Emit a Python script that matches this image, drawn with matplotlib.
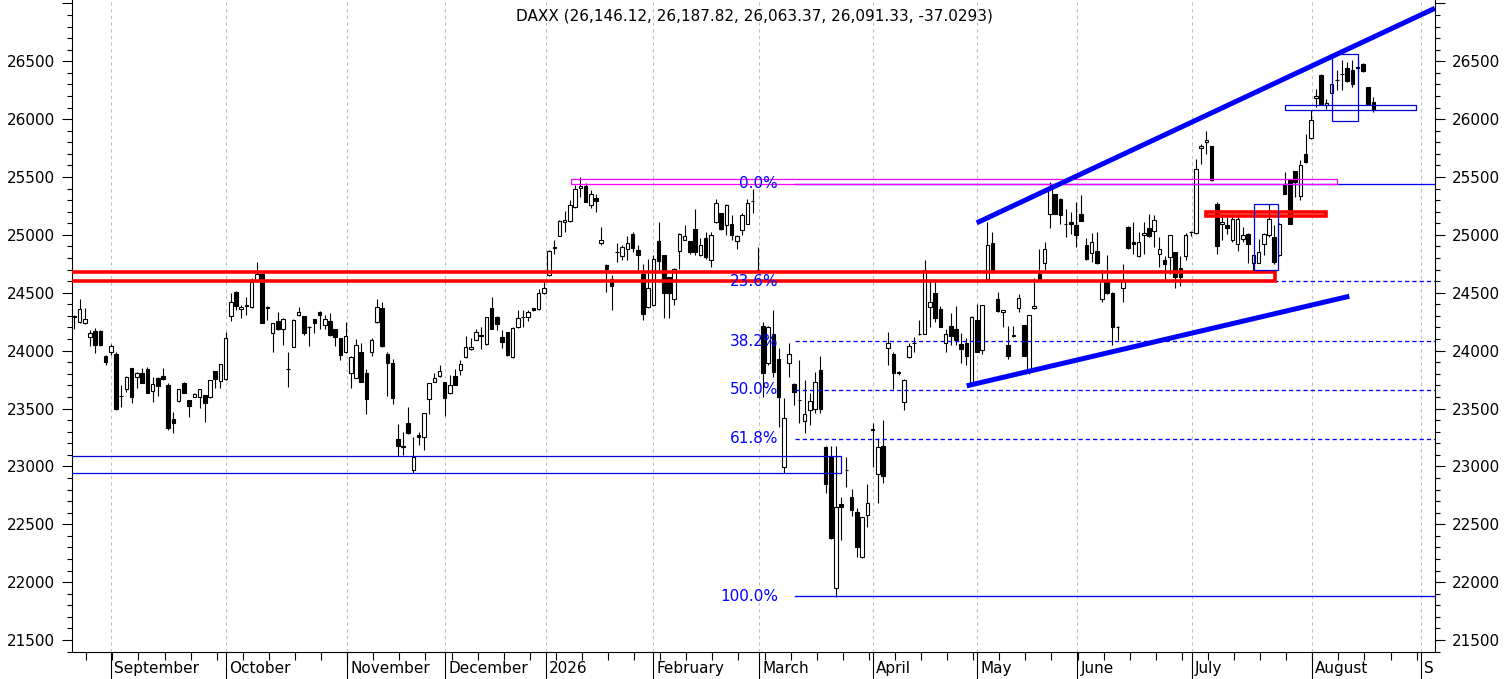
import matplotlib
matplotlib.use("Agg")
import matplotlib.pyplot as plt
import matplotlib.transforms as mtransforms
from matplotlib.patches import Rectangle
import numpy as np

# ---------------- data ----------------
opens = [24290,24247,24235,24114,24166,24170,23953,23987,23967,23612,
         23665,23846,23768,23803,23838,23653,23760,23780,23702,23406,
         23567,23717,23573,23601,23596,23616,23601,23823,23740,23751,
         24298,24503,24356,24395,24379,24609,24661,24373,24154,24255,
         24183,23842,24033,24304,24298,24208,24270,24333,24221,24255,
         24183,24105,23985,23803,23766,23985,23803,23985,24244,24365,
         23967,23889,23233,23172,23377,22968,23267,23250,23581,23731,
         23780,23725,23630,23783,23832,23941,24010,24091,24133,24054,
         24365,24293,24120,24157,23941,24200,24295,24293,24365,24356,
         24494,24652,24893,24992,25113,25118,25242,25406,25421,25262,
         25323,24934,24738,24623,24855,24816,24882,25006,24868,24660,
         24373,24393,24946,24830,24637,24442,24859,24960,24949,25055,
         24825,24977,24787,25113,25190,25084,25098,24945,25046,25098,
         25293,24697,24211,23895,24142,23932,22996,23889,23716,23574,
         23391,23486,23495,23837,23169,23083,21946,22674,22970,22732,
         22608,22213,22579,23321,22933,23175,24027,23970,23815,23558,
         23946,24069,24147,24148,24378,24502,24364,24067,24211,24191,
         24056,24067,23710,24269,24004,24617,24934,24444,24332,24047,
         24125,24372,24220,23831,24372,24666,24761,25184,25351,25314,
         25094,25112,25084,25184,24911,24845,24862,24442,24594,24502,
         24208,24537,25069,24940,24816,24997,25063,25032,24839,24781,
         24810,24848,24718,24816,25024,25017,25754,25806,25766,25271,
         25098,25083,24960,24925,24968,25011,24753,24761,24925,24997,
         24983,24825,25438,25472,25553,25334,25703,25841,26186,26385,
         26120,26229,26336,26390,26445,26428,26447,26480,26278,26146.12]

highs = [24307,24442,24365,24177,24195,24180,23960,24054,23985,23702,
         23780,23846,23817,23846,23860,23774,23774,23846,23717,23472,
         23668,23731,23573,23630,23668,23616,23750,23823,23885,24163,
         24500,24514,24393,24465,24624,24762,24670,24385,24240,24333,
         24278,23990,24270,24373,24300,24212,24270,24342,24307,24321,
         24183,24105,24249,23953,24097,24062,23840,24105,24442,24416,
         23985,23924,23365,23299,23509,23256,23299,23460,23720,23809,
         23875,23725,23789,23840,23918,24126,24105,24186,24206,24295,
         24465,24298,24177,24160,24200,24350,24350,24350,24370,24529,
         24594,24868,24954,25127,25208,25300,25429,25501,25450,25386,
         25351,25064,24747,24652,24931,24911,24989,25026,24911,24747,
         24796,24825,25112,24830,24640,24712,25015,25084,24950,25228,
         24969,25026,25026,25314,25190,25271,25170,24997,25190,25314,
         25400,24896,24250,24215,24350,24019,23587,24062,23720,23918,
         23745,23630,23817,23952,23175,23175,23175,22732,23083,22801,
         22637,22565,22847,23371,23241,23400,24162,23990,23820,23754,
         24070,24119,24263,24781,24623,24594,24387,24191,24321,24384,
         24154,24113,24298,24407,24397,25112,25026,24508,24355,24211,
         24211,24488,24222,24310,24629,24882,24940,25458,25355,25318,
         25228,25199,25285,25343,24969,25017,25026,24695,24825,24508,
         24210,24747,25075,25112,25026,25112,25179,25170,24983,24816,
         25000,24853,24816,25017,25030,25659,25783,25898,25770,25285,
         25184,25155,25179,25184,25069,25017,24830,24968,25017,25271,
         25083,25100,25544,25475,25556,25651,25875,26077,26264,26393,
         26178,26310,26422,26509,26494,26514,26523,26483,26281,26187.82]

lows = [24183,24241,24230,24039,23976,24040,23875,23961,23486,23515,
        23645,23550,23673,23722,23630,23558,23610,23750,23313,23290,
        23558,23630,23429,23598,23501,23385,23590,23673,23673,23745,
        24255,24350,24278,24307,24365,24595,24235,24264,23990,24180,
        24048,23688,24028,24300,24134,24042,24154,24189,24189,24126,
        24042,23918,23980,23673,23760,23728,23449,23956,24235,24034,
        23610,23535,23092,23098,23280,22945,23184,23141,23449,23725,
        23775,23437,23624,23700,23789,23933,24005,24090,24010,24048,
        24183,24177,24019,23956,23933,24195,24200,24255,24340,24350,
        24488,24643,24839,24989,25026,25113,25236,25328,25280,25236,
        25199,24911,24508,24350,24767,24787,24787,24853,24701,24263,
        24365,24385,24701,24278,24278,24393,24709,24955,24839,24825,
        24816,24796,24724,25107,25046,24997,24954,24882,24997,25092,
        25190,24690,23601,23880,23774,23342,22939,23774,23529,23371,
        23290,23356,23457,23457,22766,22370,21868,22363,22824,22573,
        22219,22210,22478,22996,22680,22853,23875,23667,23790,23486,
        23940,23990,24133,24142,24206,24249,24200,23990,24047,24047,
        23895,23874,23702,23985,23975,24609,24672,24335,24206,23932,
        24119,24335,23952,23802,24364,24612,24681,25063,25180,25098,
        24983,25012,24896,25118,24781,24767,24752,24422,24493,24047,
        24090,24421,24882,24839,24810,24839,24983,24896,24724,24614,
        24666,24545,24557,24781,24990,25011,25616,25703,25467,24839,
        24954,25006,24940,24862,24940,24753,24672,24753,24825,24983,
        24747,24816,25350,25092,25328,25300,25625,25832,26106,26120,
        26086,26225,26250,26250,26322,26278,26408,26408,26128,26063.37]

closes = [24296,24356,24270,24149,24045,24045,23904,24039,23492,23608,
          23768,23601,23803,23722,23636,23708,23696,23751,23328,23371,
          23665,23636,23524,23624,23665,23544,23745,23751,23881,24111,
          24416,24388,24373,24390,24589,24661,24241,24370,24235,24183,
          24270,23838,24264,24333,24154,24204,24241,24310,24270,24134,
          24120,23959,24123,23947,24048,23731,23578,24091,24379,24039,
          23889,23587,23178,23168,23285,23083,23250,23457,23717,23766,
          23826,23587,23702,23702,23881,24028,24033,24157,24129,24293,
          24189,24226,24077,23961,24198,24284,24291,24333,24355,24494,
          24537,24859,24889,25118,25127,25256,25400,25421,25285,25351,
          25294,24960,24704,24560,24851,24897,24934,24891,24830,24315,
          24543,24796,24776,24499,24499,24709,25012,24989,24853,24853,
          24911,24805,24995,25279,25055,25256,24997,24989,25170,25279,
          25289,24695,23803,24200,23817,23601,23414,23967,23644,23570,
          23449,23567,23731,23500,22844,22377,22645,22645,22966,22622,
          22306,22559,22686,23317,23169,22919,24070,23811,23808,23745,
          24039,24065,24143,24701,24416,24278,24206,24148,24128,24090,
          24018,23955,24292,23990,24393,24911,24681,24341,24350,23955,
          24139,24459,23955,24306,24390,24617,24882,25415,25184,25170,
          25090,25098,24997,25121,24790,24940,24758,24609,24499,24206,
          24204,24614,24891,24925,24940,25020,24991,25132,24882,24747,
          24997,24632,24632,24997,25028,25573,25769,25823,25472,24902,
          25112,25063,25141,25141,24997,24919,24825,24848,25011,25141,
          24767,25098,25357,25098,25458,25602,25631,25990,26201,26134,
          26143,26307,26342,26386,26330,26307,26443,26417,26128,26091.33]

month_labels = ["September", "October", "November", "December", "2026", "February",
                "March", "April", "May", "June", "July", "August", "S"]
month_pos = [7.03, 29.02, 52.33, 71.11, 90.36, 110.98, 131.30, 153.15,
             173.09, 192.26, 214.18, 237.19, 258.08]

title = "DAXX (26,146.12, 26,187.82, 26,063.37, 26,091.33, -37.0293)"

# Fibonacci retracement
fib_high = 25440
fib_low = 21880
fib_levels = [0.0, 0.236, 0.382, 0.5, 0.618, 1.0]
fib_labels = ["0.0%", "23.6%", "38.2%", "50.0%", "61.8%", "100.0%"]
fib_start = 138.2

# trend lines: (x0, y0, x1, y1)
upper_trend = (172.97, 25104, 260.8, 26958)
lower_trend = (171.06, 23696, 244.4, 24470)

# boxes: (x0, x1, y0, y1)
red_boxes = [(-5, 230.2, 24606, 24676), (216.9, 239.9, 25165, 25197)]
magenta_box = (95.2, 242.0, 25441, 25487)
blue_boxes = [(-5, 146.9, 22939, 23094), (226.2, 230.8, 24695, 25271),
              (241.1, 246.0, 25984, 26566), (232.1, 257.1, 26083, 26126)]

# ---------------- figure ----------------
W, H = 1506, 679
fig = plt.figure(figsize=(W / 100, H / 100), dpi=100)
ax = fig.add_axes([71.5 / W, 1 - 652.3 / H, (1435 - 71.5) / W, 652.3 / H])

x = np.arange(len(opens))
o = np.array(opens, float); c = np.array(closes, float)
h = np.array(highs, float); l = np.array(lows, float)
up = c >= o

ax.vlines(x, np.minimum(l, np.minimum(o, c)), np.maximum(h, np.maximum(o, c)),
          color="black", linewidth=0.8, zorder=2)
bw = 0.68
ax.bar(x[up], (c - o)[up], bottom=o[up], width=bw, color="white",
       edgecolor="black", linewidth=0.8, zorder=3)
ax.bar(x[~up], (o - c)[~up], bottom=c[~up], width=bw, color="black",
       edgecolor="black", linewidth=0.8, zorder=3)

BLUE = "#0000ff"
# boxes
for (x0, x1, y0, y1) in red_boxes:
    ax.add_patch(Rectangle((x0, y0), x1 - x0, y1 - y0, fill=False,
                           edgecolor="#ff0000", linewidth=2.6, zorder=5))
x0, x1, y0, y1 = magenta_box
ax.add_patch(Rectangle((x0, y0), x1 - x0, y1 - y0, fill=False,
                       edgecolor="#ff00ff", linewidth=0.9, zorder=5))
for (x0, x1, y0, y1) in blue_boxes:
    ax.add_patch(Rectangle((x0, y0), x1 - x0, y1 - y0, fill=False,
                           edgecolor="#0000dd", linewidth=0.9, zorder=5))

# fib lines
for lev, lab in zip(fib_levels, fib_labels):
    yv = fib_high - lev * (fib_high - fib_low)
    ls = "-" if lev in (0.0, 1.0) else (0, (3.2, 2.3))
    ax.plot([fib_start, 265], [yv, yv], color=BLUE, linewidth=0.95,
            linestyle=ls, zorder=4)
    ax.text(134.9, yv, lab, color=BLUE, fontsize=11, ha="right", va="center", zorder=6)

# trend lines
for (tx0, ty0, tx1, ty1) in (upper_trend, lower_trend):
    ax.plot([tx0, tx1], [ty0, ty1], color=BLUE, linewidth=3.6,
            solid_capstyle="butt", zorder=6)

# axes limits
ax.set_xlim(-0.54, 260.82)
ax.set_ylim(21393.7, 27029.6)

# y ticks
yt = np.arange(21500, 27001, 500)
ax.set_yticks(yt)
ax.set_yticklabels([f"{v:d}" if v <= 26500 else "" for v in yt])
ax.set_yticks(np.arange(21400, 27001, 100), minor=True)
ax.tick_params(axis="y", which="major", length=7.2, width=0.8, labelsize=11,
               left=True, right=True, labelleft=True, labelright=True,
               direction="out", pad=4.7)
ax.tick_params(axis="y", which="minor", length=3.8, width=0.8,
               left=True, right=True, direction="out")

# x ticks
ax.set_xticks(month_pos)
ax.set_xticklabels([""] * len(month_pos))
ax.set_xticks(np.arange(2.3, 260, 5.0), minor=True)
ax.tick_params(axis="x", which="major", length=19.5, width=0.8, direction="out")
ax.tick_params(axis="x", which="minor", length=5.8, width=0.8, direction="out")
trans = mtransforms.blended_transform_factory(ax.transData, ax.transAxes)
for p, lab in zip(month_pos, month_labels):
    ax.annotate(lab, xy=(p, 0), xycoords=trans, xytext=(2.2, -11.5),
                textcoords="offset points", ha="left", va="center",
                fontsize=11, annotation_clip=False)

ax.grid(True, axis="x", which="major", color="#c0c0c0",
        linestyle=(0, (3, 3)), linewidth=0.8, zorder=0)
ax.set_axisbelow(True)

for s in ("left", "right", "bottom"):
    ax.spines[s].set_linewidth(0.8)
ax.spines["top"].set_visible(False)

fig.text(754 / W, 1 - 16 / H, title, ha="center", va="center", fontsize=11)

fig.savefig("out.png", dpi=100)
